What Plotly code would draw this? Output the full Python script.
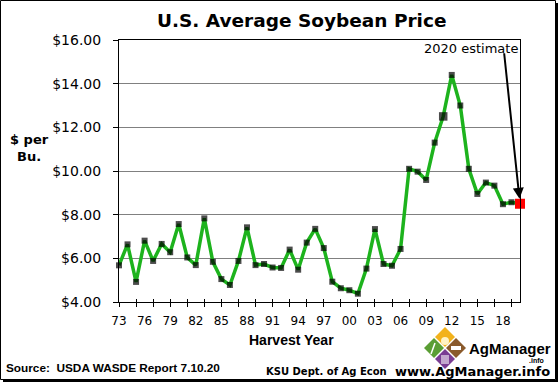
import plotly.graph_objects as go

years = list(range(1973, 2021))
prices = [5.68, 6.64, 4.92, 6.81, 5.88, 6.66, 6.28, 7.57, 6.04, 5.69,
          7.83, 5.84, 5.05, 4.78, 5.88, 7.42, 5.69, 5.74, 5.58, 5.56,
          6.40, 5.48, 6.72, 7.35, 6.47, 4.93, 4.63, 4.54, 4.38, 5.53,
          7.34, 5.74, 5.66, 6.43, 10.10, 9.97, 9.59, 11.30, 12.50, 14.40,
          13.00, 10.10, 8.95, 9.47, 9.33, 8.48, 8.57, 8.50]
label_years = list(range(1973, 2019, 3))
tick_labels = [f"{y % 100:02d}" for y in label_years]
minor_years = list(range(1973, 2021, 2))
y_ticks = [4, 6, 8, 10, 12, 14, 16]
y_labels = [f"${v:.2f}" for v in y_ticks]
estimate_year = 2020
estimate_price = 8.50

W, H = 558, 382
ML, MR, MT, MB = 119, 38, 40, 80
PW, PH = W - ML - MR, H - MT - MB


def px(x):
    return (x - ML) / PW


def py(y):
    return (H - MB - y) / PH


fig = go.Figure()
sizes = [8.5 if y == 2011 else 6 for y in years]
fig.add_trace(go.Scatter(
    x=years, y=prices, mode="lines",
    line=dict(color="#1db31d", width=3.5),
    cliponaxis=False, showlegend=False, hoverinfo="skip"))
fig.add_trace(go.Scatter(
    x=years, y=prices, mode="markers",
    marker=dict(symbol="square", size=sizes, color="black",
                line=dict(width=0)),
    cliponaxis=False, showlegend=False, hoverinfo="x+y"))
fig.add_trace(go.Scatter(
    x=[estimate_year], y=[estimate_price], mode="markers",
    marker=dict(symbol="square", size=10, color="#ff0000",
                line=dict(width=0)),
    cliponaxis=False, showlegend=False))
# overlay axis for the inner half of the crossing ticks
fig.add_trace(go.Scatter(x=[years[0]], y=[prices[0]], xaxis="x2",
                         mode="markers", marker=dict(opacity=0),
                         showlegend=False, hoverinfo="skip"))

fnt = "DejaVu Sans, Verdana, sans-serif"
arial = "Liberation Sans, Arial, sans-serif"
fig.update_layout(
    width=W, height=H,
    margin=dict(l=ML, r=MR, t=MT, b=MB, pad=0),
    paper_bgcolor="white", plot_bgcolor="white",
    font=dict(family=fnt, color="black"),
    xaxis=dict(range=[1973, 2020], tickmode="array", tickvals=label_years,
               ticktext=tick_labels, ticks="", showgrid=False,
               showline=True, linecolor="black", linewidth=1, mirror=True,
               tickfont=dict(size=12), ticklabelstandoff=8,
               minor=dict(tickmode="array", tickvals=minor_years,
                          ticks="outside", ticklen=4, tickcolor="black",
                          tickwidth=1, showgrid=False),
               zeroline=False),
    xaxis2=dict(range=[1973, 2020], overlaying="x", anchor="y", side="bottom",
                tickmode="array", tickvals=minor_years, ticks="inside",
                ticklen=3, tickcolor="black", showticklabels=False,
                showgrid=False, showline=False, zeroline=False),
    yaxis=dict(range=[4, 16], tickmode="array", tickvals=y_ticks,
               ticktext=y_labels, ticks="outside", ticklen=5,
               tickcolor="black", showgrid=True, gridcolor="#808080",
               gridwidth=1, showline=True, linecolor="black", linewidth=1,
               mirror=True, tickfont=dict(size=14), ticklabelstandoff=9,
               zeroline=False),
)

ann = []
ann.append(dict(text="<b>U.S. Average Soybean Price</b>", x=px(301), y=py(20),
                xref="paper", yref="paper", showarrow=False,
                font=dict(size=18.5), xanchor="center", yanchor="middle"))
ann.append(dict(text="<b>$ per<br>Bu.</b>", x=px(29), y=py(148),
                xref="paper", yref="paper", showarrow=False,
                font=dict(size=13), xanchor="center", yanchor="middle"))
ann.append(dict(text="<b>Harvest Year</b>", x=px(291), y=py(340),
                xref="paper", yref="paper", showarrow=False,
                font=dict(size=14, family=arial), xanchor="center",
                yanchor="middle"))
ann.append(dict(text="<b>Source:  USDA WASDE Report 7.10.20</b>", x=px(4),
                y=py(368), xref="paper", yref="paper", showarrow=False,
                font=dict(size=11.8, family=arial),
                xanchor="left", yanchor="middle"))
ann.append(dict(text="<b>KSU Dept. of Ag Econ</b>", x=px(326), y=py(371),
                xref="paper", yref="paper", showarrow=False,
                font=dict(size=10), xanchor="center", yanchor="middle"))
ann.append(dict(text="<b>www.AgManager.info</b>", x=px(552), y=py(371),
                xref="paper", yref="paper", showarrow=False,
                font=dict(size=13), xanchor="right", yanchor="middle"))
ann.append(dict(text="<b>AgManager</b>", x=px(467), y=py(348),
                xref="paper", yref="paper", showarrow=False,
                font=dict(size=15, family=arial),
                xanchor="left", yanchor="middle"))
ann.append(dict(text="<b>.info</b>", x=px(546), y=py(360),
                xref="paper", yref="paper", showarrow=False,
                font=dict(size=7, family=arial),
                xanchor="right", yanchor="middle"))
ann.append(dict(text="2020 estimate", x=px(520), y=py(48), xref="paper",
                yref="paper", showarrow=False, font=dict(size=13),
                xanchor="right", yanchor="middle"))
ann.append(dict(text="", x=estimate_year, y=estimate_price, xref="x",
                yref="y", showarrow=True, arrowhead=2, arrowsize=1.1,
                arrowwidth=2, arrowcolor="black", ax=-16, ay=-152,
                standoff=5))
fig.update_layout(annotations=ann)

shapes = []
# outer frame with shadow
shapes.append(dict(type="rect", xref="paper", yref="paper", x0=px(0.5),
                   x1=px(555.5), y0=py(379.5), y1=py(0.5),
                   line=dict(color="black", width=1), layer="below"))
shapes.append(dict(type="line", xref="paper", yref="paper", x0=px(557),
                   x1=px(557), y0=py(382), y1=py(3),
                   line=dict(color="black", width=2.5)))
shapes.append(dict(type="line", xref="paper", yref="paper", x0=px(3),
                   x1=px(558), y0=py(381), y1=py(381),
                   line=dict(color="black", width=2.5)))


def diamond(cx, cy, r, color):
    path = (f"M {px(cx)} {py(cy - r)} L {px(cx + r)} {py(cy)} "
            f"L {px(cx)} {py(cy + r)} L {px(cx - r)} {py(cy)} Z")
    return dict(type="path", xref="paper", yref="paper", path=path,
                fillcolor=color, line=dict(width=0))


shapes.append(diamond(445, 337, 10, "#f2b21b"))
shapes.append(diamond(434, 348, 10, "#5a9e34"))
shapes.append(diamond(456, 348, 10, "#8a5a2c"))
shapes.append(diamond(445, 359, 10, "#7a3d93"))
# small white details in the logo
shapes.append(dict(type="circle", xref="paper", yref="paper",
                   x0=px(441), x1=px(449), y0=py(345), y1=py(337),
                   fillcolor="#fff3c4", line=dict(width=0)))
shapes.append(dict(type="rect", xref="paper", yref="paper",
                   x0=px(451), x1=px(461), y0=py(350), y1=py(346),
                   fillcolor="white", line=dict(width=0)))
shapes.append(dict(type="line", xref="paper", yref="paper",
                   x0=px(431), x1=px(435), y0=py(354), y1=py(343),
                   line=dict(color="white", width=1.5)))
shapes.append(dict(type="rect", xref="paper", yref="paper",
                   x0=px(441), x1=px(449), y0=py(364), y1=py(355),
                   fillcolor="rgba(255,255,255,0.55)", line=dict(width=0)))
fig.update_layout(shapes=shapes)

fig.write_html("out.html", config={"displayModeBar": False},
               post_script="document.body.style.margin='0';"
                           "document.body.style.overflow='hidden';")
